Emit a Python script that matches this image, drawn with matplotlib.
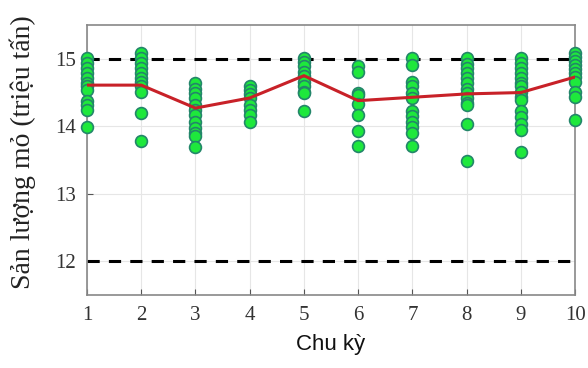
import matplotlib.pyplot as plt
import numpy as np

# production per cycle
cycles = list(range(1, 11))
samples = [
    [15.01, 14.94, 14.86, 14.79, 14.71, 14.64, 14.59, 14.54, 14.37, 14.32, 14.24, 13.99],
    [15.08, 15.01, 14.94, 14.86, 14.79, 14.71, 14.66, 14.59, 14.51, 14.20, 13.78],
    [14.64, 14.56, 14.49, 14.42, 14.32, 14.24, 14.17, 14.07, 13.97, 13.90, 13.85, 13.70],
    [14.60, 14.54, 14.48, 14.42, 14.32, 14.24, 14.17, 14.07],
    [15.01, 14.95, 14.89, 14.81, 14.74, 14.66, 14.59, 14.51, 14.49, 14.23],
    [14.89, 14.81, 14.50, 14.47, 14.33, 14.17, 13.93, 13.71],
    [15.01, 14.91, 14.65, 14.59, 14.50, 14.42, 14.23, 14.15, 14.07, 13.99, 13.90, 13.71],
    [15.01, 14.93, 14.86, 14.79, 14.71, 14.64, 14.56, 14.49, 14.42, 14.34, 14.32, 14.03, 13.49],
    [15.01, 14.94, 14.86, 14.79, 14.71, 14.64, 14.59, 14.51, 14.44, 14.39, 14.22, 14.14, 14.04, 13.95, 13.62],
    [15.09, 15.03, 14.97, 14.91, 14.85, 14.79, 14.73, 14.66, 14.51, 14.44, 14.09],
]
mean_line = [14.61, 14.61, 14.27, 14.42, 14.75, 14.38, 14.43, 14.48, 14.50, 14.73]
upper_limit = 15
lower_limit = 12

serif = 'Liberation Serif'

fig = plt.figure(figsize=(5.88, 3.68), dpi=100)
ax = fig.add_axes([0.148, 0.198, 0.830, 0.734])

ax.grid(True, color='#e6e6e6', linewidth=0.8)
ax.set_axisbelow(True)

ax.axhline(upper_limit, color='black', linestyle=(0, (4, 3)), linewidth=2.2, zorder=2)
ax.axhline(lower_limit, color='black', linestyle=(0, (4, 3)), linewidth=2.2, zorder=2)

for c, vals in zip(cycles, samples):
    ax.plot([c] * len(vals), vals, 'o', markersize=8.5, markerfacecolor='#1ee83c',
            markeredgecolor='#23866a', markeredgewidth=1.2, linestyle='none',
            clip_on=False, zorder=3)

ax.plot(cycles, mean_line, color='#c82128', linewidth=2.2, zorder=4)

ax.set_xlim(1, 10)
ax.set_ylim(11.5, 15.5)
ax.set_xticks(cycles)
ax.set_yticks([12, 13, 14, 15])
ax.tick_params(direction='in', length=4, color='#555555', labelsize=15, pad=8)
for lbl in ax.get_xticklabels() + ax.get_yticklabels():
    lbl.set_fontfamily(serif)
    lbl.set_color('#333333')
for s in ax.spines.values():
    s.set_color('#888888')
    s.set_linewidth(1.2)

ax.set_ylabel('Sản lượng mỏ (triệu tấn)', fontfamily=serif, fontsize=20, color='#222222')
ax.yaxis.set_label_coords(-0.105, 0.53)
ax.set_xlabel('Chu kỳ', fontfamily='Liberation Sans', fontsize=16, color='#111111', labelpad=6)

fig.savefig('out.png', dpi=100)
